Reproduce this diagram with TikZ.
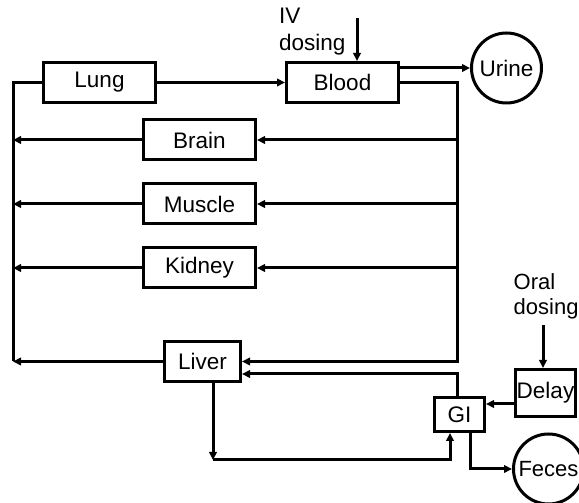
\documentclass[tikz,border=0pt]{standalone}
\usepackage{fontspec}
\setmainfont{Liberation Sans}
\usetikzlibrary{positioning,arrows.meta}
\tikzset{organ/.style={draw,line width=3pt,inner sep=0pt,minimum width=112pt,minimum height=40pt},
	 pool/.style={circle,draw,line width=3pt,inner sep=0pt,minimum size=70pt},
	 flow/.style={line width=3pt,-{Triangle[length=8pt,width=7.5pt]}},
	 pipe/.style={line width=3pt},
	 note/.style={anchor=north west,align=left,inner sep=0pt},
	 node distance = 21pt
	 }

\begin{document}
\begin{tikzpicture}[x=1pt,y=1pt,font=\fontsize{22.5}{27}\selectfont] % PBPK model
        \useasboundingbox (0,0) rectangle (579,503);
        \node[organ] (lung) at (99.5,420.5) {Lung};
        \node[organ] (blood) [right=128pt of lung] {Blood};
        \node[pool] (urine) at (506.5,435) {Urine};
        \node[organ] (brain) at (199.5,363) {Brain};
        \node[organ] (muscle) [below=of brain] {Muscle};
        \node[organ] (kidney) [below=of muscle] {Kidney};
        \node[organ,minimum width=76pt] (liver) at (202.5,141.5) {Liver};
        \node[organ,minimum width=50pt,minimum height=34pt] (gi) at (459.5,88.5) {GI};
        \node[organ,minimum width=60pt,minimum height=47pt] (delay) at (545.5,110) {Delay};
        \node[pool,font=\fontsize{22}{25}\selectfont] (feces) at (548.5,34) {Feces};
        \node[note] (iv) at (279,495) {IV\\dosing};
        \node[note,font=\fontsize{22}{25}\selectfont] (oral) at (513.5,230) {Oral\\dosing};
        \coordinate (lbus) at (13,0);
        \coordinate (rbus) at (457,0);
        \coordinate (ivtop) at (357,485);
        \coordinate (oraltop) at (543,178);
        \coordinate (turn) at (213,43);
        \draw[flow] (lung) -- (blood);
        \draw[flow] (ivtop) -- (ivtop |- blood.north);
        \draw[flow] (urine.west -| blood.east) -- (urine);
        \draw[flow] (blood.east) -| (rbus |- liver.east) -- (liver.east);
        \draw[pipe] (lung.west) -| (lbus |- liver.west);
        \foreach \o in {brain,muscle,kidney} {
          \draw[flow] (rbus |- \o.east) -- (\o.east);
          \draw[flow] (\o.west) -- (lbus |- \o.west);
        }
        \draw[flow] (liver.west) -- (lbus |- liver.west);
        \draw[flow] (rbus |- gi.north) |- ([yshift=-12.5pt]liver.east);
        \draw[flow] (turn |- liver.south) -- (turn);
        \draw[flow] (turn) -| ([xshift=-9.5pt]gi.south);
        \draw[flow] ([yshift=-11pt]delay.west) -- ([yshift=-11pt]delay.west -| gi.east);
        \draw[flow] (oraltop) -- (oraltop |- delay.north);
        \draw[flow] ([xshift=10.5pt]gi.south) |- (feces);
\end{tikzpicture}
\end{document}
